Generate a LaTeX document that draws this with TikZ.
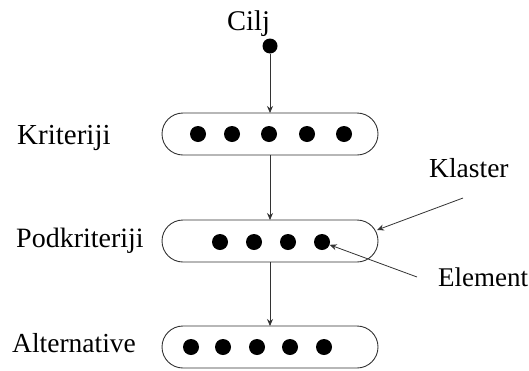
\documentclass[tikz,border=0pt]{standalone}
\usepackage{fontspec}
\setmainfont{Liberation Serif}
\usetikzlibrary{arrows.meta}
\tikzset{
  cluster/.style={draw=black!80, line width=0.9pt, rounded corners=21pt},
  elem/.style={circle, fill=black, inner sep=0pt, minimum size=16pt},
  conn/.style={draw=black!80, line width=0.8pt, -{Stealth[length=7pt,width=6pt]}},
  lbl/.style={anchor=base west, inner sep=0pt},
  fs/.style={font=\fontsize{#1}{#1}\selectfont}
}
\begin{document}
\begin{tikzpicture}[x=1pt,y=-1pt]
\useasboundingbox (0,0) rectangle (529,370);
% labels
\node[lbl, fs=28.5] (cilj) at (227,30) {Cilj};
\node[lbl, fs=29] (krit) at (17,144) {Kriteriji};
\node[lbl, fs=28] (podk) at (16,247) {Podkriteriji};
\node[lbl, fs=27.5] (alt) at (12,352) {Alternative};
\node[lbl, fs=27.5] (klaster) at (429,177) {Klaster};
\node[lbl, fs=27] (element) at (438,286) {Element};
% goal
\node[elem, minimum size=15pt] (goal) at (270,46) {};
% clusters
\draw[cluster] (162,113) rectangle (378,155);
\draw[cluster] (162,220) rectangle (378,262);
\draw[cluster] (162,326) rectangle (378,368);
\coordinate (c1t) at (270,113);
\coordinate (c1b) at (270,155);
\coordinate (c2t) at (270,220);
\coordinate (c2b) at (270,262);
\coordinate (c3t) at (270,326);
\coordinate (c2r) at (377,230);
% elements
\foreach \x [count=\i] in {198,232,269,307,344} \node[elem] (a\i) at (\x,134) {};
\foreach \x [count=\i] in {220,254,288,322} \node[elem] (b\i) at (\x,242) {};
\foreach \x [count=\i] in {191,223,257,290,324} \node[elem] (d\i) at (\x,347) {};
% connectors
\draw[conn] (goal) -- (c1t);
\draw[conn] (c1b) -- (c2t);
\draw[conn] (c2b) -- (c3t);
\coordinate (kstart) at (463,198);
\coordinate (estart) at (417,277);
\draw[conn] (kstart) -- (c2r);
\draw[conn] (estart) -- (b4);
\end{tikzpicture}
\end{document}
